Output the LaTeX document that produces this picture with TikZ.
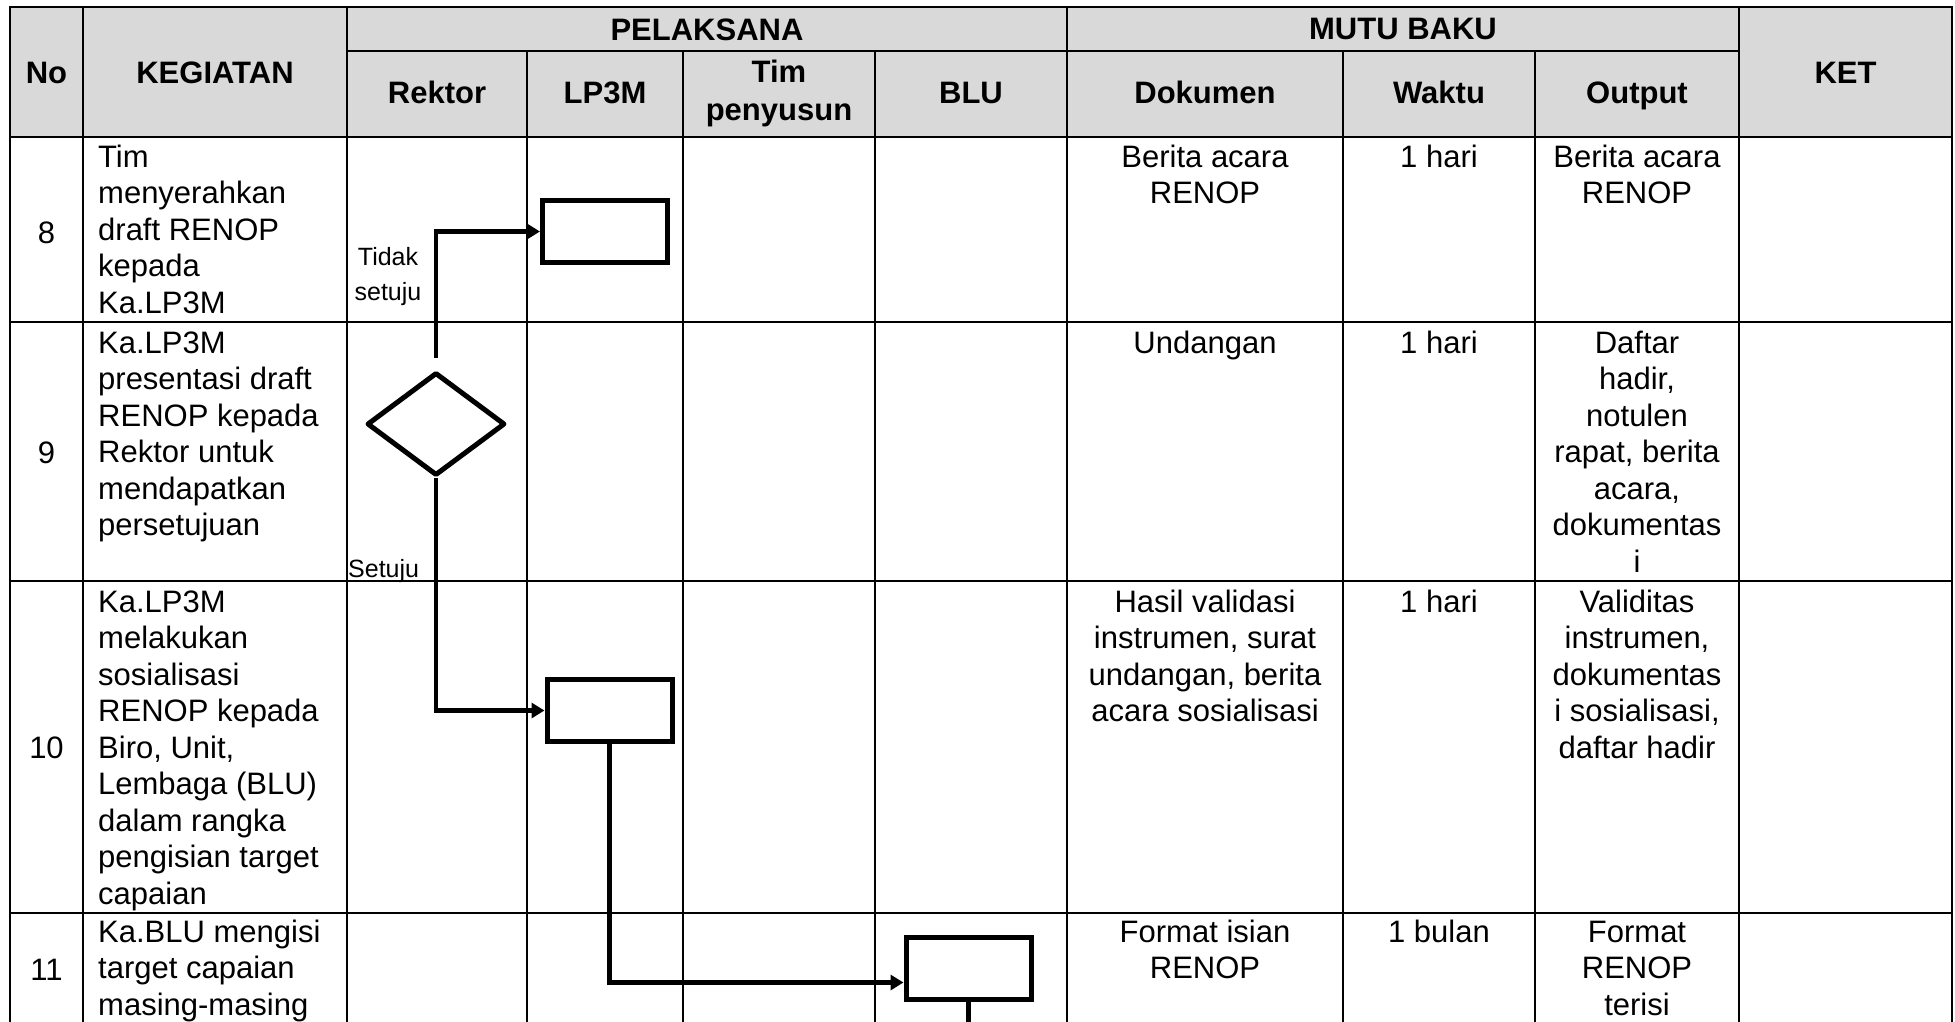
\documentclass[tikz,border=0pt]{standalone}
\usepackage{fontspec}
\setmainfont{Liberation Sans}
\usetikzlibrary{arrows.meta,shapes.geometric}
\definecolor{hdr}{HTML}{D9D9D9}
\tikzset{
 grid/.style={line width=2.5pt, line cap=rect},
 body/.style={font=\fontsize{31}{36.5}\selectfont, inner sep=0pt},
 hd/.style={font=\bfseries\fontsize{31}{38}\selectfont, inner sep=0pt},
 procbox/.style={draw, line width=5pt, minimum width=125pt, minimum height=62pt, inner sep=0pt},
 decision/.style={diamond, draw, line width=5pt, minimum width=138pt, minimum height=103pt, inner sep=0pt, line join=round},
 flow/.style={line width=4.5pt},
 flowarrow/.style={flow, -{Triangle[length=13pt,width=15pt]}},
 lbl/.style={font=\fontsize{25}{35}\selectfont, inner sep=0pt},
}
\newcommand{\fs}[1]{\rule{0pt}{#1pt}}
\begin{document}
\begin{tikzpicture}[x=1pt,y=-1pt]
\useasboundingbox (0,0) rectangle (1955,1021);
\clip (0,0) rectangle (1955,1021);
\fill[hdr] (10,7) rectangle (1952,137);
% grid
\draw[grid] (10,1030) -- (10,7) -- (1952,7) -- (1952,1030);
\draw[grid] (347,51) -- (1739,51);
\draw[grid] (10,137) -- (1952,137);
\foreach \y in {322,581,913} \draw[grid] (10,\y) -- (1952,\y);
\foreach \x in {83,347,1067,1739} \draw[grid] (\x,7) -- (\x,1030);
\foreach \x in {527,683,875,1343,1535} \draw[grid] (\x,51) -- (\x,1030);

% headers
\node[hd, anchor=base] (hNo) at (46.5,83) {No};
\node[hd, anchor=base] (hKeg) at (215,83) {KEGIATAN};
\node[hd, anchor=base] (hPel) at (707,40) {PELAKSANA};
\node[hd, anchor=base] (hMutu) at (1403,39) {MUTU BAKU};
\node[hd, anchor=base] (hKet) at (1845.5,83) {KET};
\node[hd, anchor=base] (hRek) at (437,103) {Rektor};
\node[hd, anchor=base] (hLp) at (605,103) {LP3M};
\node[hd, anchor=north, align=center] (hTim) at (779,54) {\fs{28}Tim\\penyusun};
\node[hd, anchor=base] (hBlu) at (971,103) {BLU};
\node[hd, anchor=base] (hDok) at (1205,103) {Dokumen};
\node[hd, anchor=base] (hWak) at (1439,103) {Waktu};
\node[hd, anchor=base] (hOut) at (1637,103) {Output};

% row 8
\node[body, anchor=base] (n8) at (46.5,243) {8};
\node[body, anchor=north west, align=left] (k8) at (98,137) {\fs{30}Tim\\menyerahkan\\draft RENOP\\kepada\\Ka.LP3M};
\node[body, anchor=north, align=center] (d8) at (1205,137) {\fs{30}Berita acara\\RENOP};
\node[body, anchor=north, align=center] (w8) at (1439,137) {\fs{30}1 hari};
\node[body, anchor=north, align=center] (o8) at (1637,137) {\fs{30}Berita acara\\RENOP};

% row 9
\node[body, anchor=base] (n9) at (46.5,463) {9};
\node[body, anchor=north west, align=left] (k9) at (98,323) {\fs{30}Ka.LP3M\\presentasi draft\\RENOP kepada\\Rektor untuk\\mendapatkan\\persetujuan};
\node[body, anchor=north, align=center] (d9) at (1205,323) {\fs{30}Undangan};
\node[body, anchor=north, align=center] (w9) at (1439,323) {\fs{30}1 hari};
\node[body, anchor=north, align=center] (o9) at (1637,323) {\fs{30}Daftar\\hadir,\\notulen\\rapat, berita\\acara,\\dokumentas\\i};

% row 10
\node[body, anchor=base] (n10) at (46.5,758) {10};
\node[body, anchor=north west, align=left] (k10) at (98,582) {\fs{30}Ka.LP3M\\melakukan\\sosialisasi\\RENOP kepada\\Biro, Unit,\\Lembaga (BLU)\\dalam rangka\\pengisian target\\capaian};
\node[body, anchor=north, align=center] (d10) at (1205,582) {\fs{30}Hasil validasi\\instrumen, surat\\undangan, berita\\acara sosialisasi};
\node[body, anchor=north, align=center] (w10) at (1439,582) {\fs{30}1 hari};
\node[body, anchor=north, align=center] (o10) at (1637,582) {\fs{30}Validitas\\instrumen,\\dokumentas\\i sosialisasi,\\daftar hadir};

% row 11
\node[body, anchor=base] (n11) at (46.5,980) {11};
\node[body, anchor=north west, align=left] (k11) at (98,912) {\fs{30}Ka.BLU mengisi\\target capaian\\masing-masing};
\node[body, anchor=north, align=center] (d11) at (1205,912) {\fs{30}Format isian\\RENOP};
\node[body, anchor=north, align=center] (w11) at (1439,912) {\fs{30}1 bulan};
\node[body, anchor=north, align=center] (o11) at (1637,912) {\fs{30}Format\\RENOP\\terisi};

% flow shapes
\node[procbox] (b1) at (605,231.5) {};
\node[decision] (dia) at (436,424) {};
\node[procbox] (b2) at (609.5,710.5) {};
\node[procbox] (b3) at (968.5,968.5) {};

% labels
\node[lbl, anchor=north, align=center] (lTidak) at (388,241) {\fs{24}Tidak\\setuju};
\node[lbl, anchor=base west] (lSetuju) at (348,577) {Setuju};

% connectors
\draw[flowarrow, shorten <=12pt] (dia.north) |- (b1.west);
\draw[flowarrow] (dia.south) |- (b2.west);
\draw[flowarrow] (b2.south) |- ([yshift=-14pt]b3.west);
\coordinate (out) at (968.5,1030);
\draw[flow] (b3.south) -- (out);
\end{tikzpicture}
\end{document}
